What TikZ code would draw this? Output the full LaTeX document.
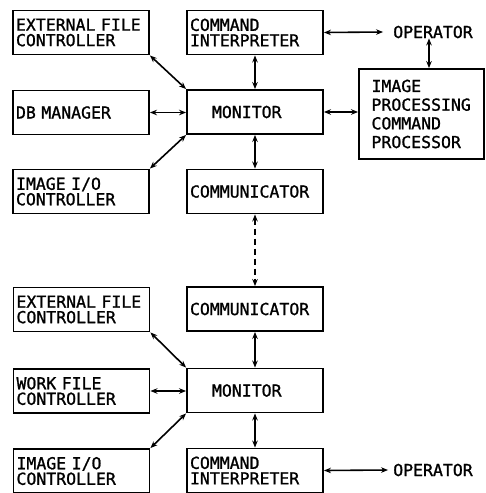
\documentclass[tikz,border=0pt]{standalone}
\usepackage{fontspec}
\setmainfont[FakeBold=1.2]{DejaVu Sans Mono}
\usetikzlibrary{arrows.meta}
\begin{document}
\begin{tikzpicture}[x=1pt,y=-1pt,
  lbl/.style={font=\fontsize{16.5}{15.5}\selectfont},
  box/.style={draw,line width=1.9pt,minimum width=136pt,minimum height=44pt,
    text width=130pt,align=left,inner xsep=3pt,inner ysep=2pt,lbl},
  bigbox/.style={box,minimum width=125pt,minimum height=90pt,text width=100pt,
    inner xsep=12.5pt,font=\fontsize{16.5}{18.7}\selectfont},
  plain/.style={lbl,inner sep=0pt},
  tip/.tip={Stealth[length=7pt,width=5.5pt]},
  link/.style={line width=1.6pt,tip-tip}]
\useasboundingbox (0,0) rectangle (486,493);

% upper station
\node[box] (efcA) at (81,32.5)   {EXTERNAL FILE\\CONTROLLER};
\node[box] (db)   at (81,112.5)  {DB MANAGER};
\node[box] (ioA)  at (81,191.5)  {IMAGE I/O\\CONTROLLER};
\node[box] (ciA)  at (255,32.5)  {COMMAND\\INTERPRETER};
\node[box] (monA) at (255,112)   {\hspace*{22pt}MONITOR};
\node[box] (comA) at (255,191.5) {COMMUNICATOR};
\node[bigbox] (ipcp) at (421.5,114) {IMAGE\\PROCESSING\\COMMAND\\PROCESSOR};
\node[plain] (opA) at (433,32) {OPERATOR};

% lower station
\node[box] (efcB) at (81.5,309.5) {EXTERNAL FILE\\CONTROLLER};
\node[box] (wfc)  at (81.5,391)   {WORK FILE\\CONTROLLER};
\node[box] (ioB)  at (81.5,471)   {IMAGE I/O\\CONTROLLER};
\node[box] (comB) at (255,309)    {COMMUNICATOR};
\node[box] (monB) at (255,390.5)  {\hspace*{22pt}MONITOR};
\node[box] (ciB)  at (255,470.5)  {COMMAND\\INTERPRETER};
\node[plain] (opB) at (433,470) {OPERATOR};

% connectors, upper
\draw[link] (efcA.south east) -- (monA.north west);
\draw[link] (db.east) -- (db.east -| monA.west);
\draw[link] (ioA.north east) -- (monA.south west);
\draw[link] (ciA.south) -- (monA.north);
\draw[link] (monA.south) -- (comA.north);
\draw[link] (ciA.east) -- ([xshift=-10pt]opA.west);
\draw[link] (opA.south -| 429,0) -- (429,0 |- ipcp.north);
\draw[link] (monA.east) -- (monA.east -| ipcp.west);

% link between the two stations
\draw[link,dash pattern=on 6pt off 4pt] (comA.south) -- (comB.north);

% connectors, lower
\draw[link] (efcB.south east) -- (monB.north west);
\draw[link] (wfc.east) -- (wfc.east -| monB.west);
\draw[link] (ioB.north east) -- (monB.south west);
\draw[link] (comB.south) -- (monB.north);
\draw[link] (monB.south) -- (ciB.north);
\draw[link] (ciB.east) -- ([xshift=-5pt]opB.west);
\end{tikzpicture}
\end{document}
